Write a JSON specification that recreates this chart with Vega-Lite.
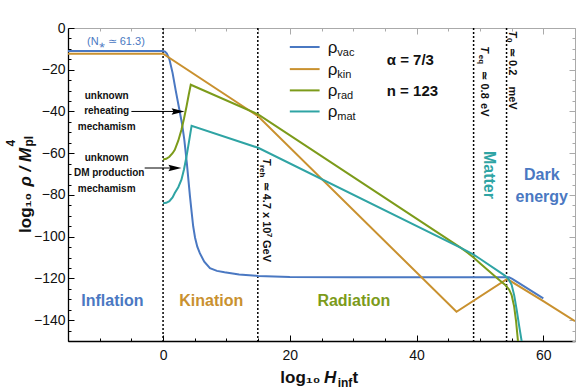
{
"$schema": "https://vega.github.io/schema/vega-lite/v6.json",
"width": 507, "height": 313,
"autosize": "none",
"padding": {"left": 68, "top": 28, "right": 6, "bottom": 51},
"config": {"view": {"stroke": null}, "font": "Liberation Sans",
  "axis": {"grid": false, "labelFont": "Liberation Sans", "labelFontSize": 14, "labelColor": "#111", "domainColor": "#000", "domainWidth": 1.3, "tickColor": "#000", "tickWidth": 1}},
"layer": [
{"data": {"values": [{"x":0},{"x":14.95},{"x":49},{"x":54.2}]},
 "mark": {"type": "rule", "color": "black", "strokeWidth": 1.5, "strokeDash": [2,2]},
 "encoding": {"x": {"field":"x","type":"quantitative","scale":{"domain":[-15,65],"nice":false,"zero":false},"axis":null}}},
{"data": {"values": [
{"s":"vac","x":-15,"y":-11},{"s":"vac","x":0,"y":-11},{"s":"vac","x":0.3,"y":-11.3},{"s":"vac","x":0.6,"y":-12.3},{"s":"vac","x":1,"y":-15},{"s":"vac","x":1.5,"y":-21.5},{"s":"vac","x":2,"y":-30},{"s":"vac","x":2.5,"y":-38},{"s":"vac","x":3,"y":-46},{"s":"vac","x":3.35,"y":-53.5},{"s":"vac","x":3.75,"y":-64.7},{"s":"vac","x":4.25,"y":-80.8},{"s":"vac","x":4.5,"y":-88},{"s":"vac","x":4.75,"y":-95},{"s":"vac","x":5.05,"y":-100.5},{"s":"vac","x":5.4,"y":-104.8},{"s":"vac","x":5.8,"y":-107.9},{"s":"vac","x":6.5,"y":-112},{"s":"vac","x":7.4,"y":-115.1},{"s":"vac","x":8.5,"y":-116.4},{"s":"vac","x":9.7,"y":-117.1},{"s":"vac","x":12,"y":-118.1},{"s":"vac","x":15,"y":-118.8},{"s":"vac","x":20,"y":-119.3},{"s":"vac","x":30,"y":-119.4},{"s":"vac","x":54.6,"y":-119.5},{"s":"vac","x":55.1,"y":-120.2},{"s":"vac","x":55.6,"y":-121.2},{"s":"vac","x":60,"y":-129.6},
{"s":"kin","x":-15,"y":-12.3},{"s":"kin","x":0,"y":-12.3},{"s":"kin","x":15,"y":-42.3},{"s":"kin","x":46.3,"y":-136},{"s":"kin","x":54.3,"y":-120.3},{"s":"kin","x":60,"y":-130.9},{"s":"kin","x":65,"y":-140.5},
{"s":"rad","x":0,"y":-63},{"s":"rad","x":0.5,"y":-62.7},{"s":"rad","x":1,"y":-61.7},{"s":"rad","x":1.5,"y":-60},{"s":"rad","x":1.85,"y":-58.4},{"s":"rad","x":2.4,"y":-54},{"s":"rad","x":2.9,"y":-48.8},{"s":"rad","x":3.3,"y":-43.5},{"s":"rad","x":3.7,"y":-37.6},{"s":"rad","x":4.05,"y":-32},{"s":"rad","x":4.37,"y":-27.2},{"s":"rad","x":15,"y":-41.4},{"s":"rad","x":47,"y":-105.4},{"s":"rad","x":48,"y":-107.6},{"s":"rad","x":49,"y":-110},{"s":"rad","x":50,"y":-112.7},{"s":"rad","x":51,"y":-115.4},{"s":"rad","x":52,"y":-118},{"s":"rad","x":53,"y":-120.6},{"s":"rad","x":54,"y":-123.2},{"s":"rad","x":54.6,"y":-125.3},{"s":"rad","x":55,"y":-128},{"s":"rad","x":55.4,"y":-133.5},{"s":"rad","x":55.7,"y":-140.5},{"s":"rad","x":56,"y":-150},{"s":"rad","x":56.3,"y":-160},
{"s":"mat","x":0,"y":-84},{"s":"mat","x":0.5,"y":-83.8},{"s":"mat","x":1,"y":-83},{"s":"mat","x":1.5,"y":-81.2},{"s":"mat","x":1.85,"y":-79.1},{"s":"mat","x":2.4,"y":-76.3},{"s":"mat","x":2.9,"y":-72.7},{"s":"mat","x":3.3,"y":-67.8},{"s":"mat","x":3.7,"y":-61.6},{"s":"mat","x":4.1,"y":-54.3},{"s":"mat","x":4.5,"y":-46.9},{"s":"mat","x":15,"y":-57.4},{"s":"mat","x":47,"y":-105.4},{"s":"mat","x":49,"y":-108.6},{"s":"mat","x":50,"y":-110.6},{"s":"mat","x":54,"y":-118.8},{"s":"mat","x":54.5,"y":-120.3},{"s":"mat","x":55,"y":-123.1},{"s":"mat","x":55.4,"y":-128},{"s":"mat","x":55.8,"y":-135.1},{"s":"mat","x":56.2,"y":-143},{"s":"mat","x":56.6,"y":-150.4},{"s":"mat","x":56.9,"y":-158}
]},
 "mark": {"type": "line", "strokeWidth": 2, "clip": true},
 "encoding": {
  "x": {"field":"x","type":"quantitative","scale":{"domain":[-15,65],"nice":false,"zero":false},
        "axis":{"orient":"bottom","title":null,"values":[-15,-10,-5,0,5,10,15,20,25,30,35,40,45,50,55,60,65],"labelExpr":"datum.value % 20 === 0 ? datum.label : ''","tickSize":{"condition":{"test":"datum.value % 20 === 0","value":-6},"value":-3},"labelPadding":13,"labelOverlap":false,"labelFlush":false}},
  "y": {"field":"y","type":"quantitative","scale":{"domain":[-150,0],"nice":false,"zero":false},
        "axis":{"orient":"left","title":null,"values":[-150,-145,-140,-135,-130,-125,-120,-115,-110,-105,-100,-95,-90,-85,-80,-75,-70,-65,-60,-55,-50,-45,-40,-35,-30,-25,-20,-15,-10,-5,0],"labelExpr":"datum.value % 20 === 0 ? datum.label : ''","tickSize":{"condition":{"test":"datum.value % 20 === 0","value":-6},"value":-3},"labelPadding":9,"labelOverlap":false,"labelFlush":false}},
  "color": {"field":"s","type":"nominal","scale":{"domain":["vac","kin","rad","mat"],"range":["#4A78C2","#C9912F","#7C9B1A","#2FA4A4"]},"legend":null},
  "detail": {"field":"s"}
 }},
{"data": {"values": [{"s":"vac","x":20,"x2":24.7,"y":-9.1},{"s":"kin","x":20,"x2":24.7,"y":-19.7},{"s":"rad","x":20,"x2":24.7,"y":-29.9},{"s":"mat","x":20,"x2":24.7,"y":-40}]},
 "mark": {"type": "rule", "strokeWidth": 2},
 "encoding": {
  "x": {"field":"x","type":"quantitative","scale":{"domain":[-15,65],"nice":false,"zero":false},
        "axis":{"orient":"top","title":null,"values":[-15,-10,-5,0,5,10,15,20,25,30,35,40,45,50,55,60,65],"labels":false,"domainColor":"#aaa","domainWidth":1,"tickColor":"#aaa","tickSize":{"condition":{"test":"datum.value % 20 === 0","value":-6},"value":-3}}},
  "x2": {"field":"x2"},
  "y": {"field":"y","type":"quantitative","scale":{"domain":[-150,0],"nice":false,"zero":false},
        "axis":{"orient":"right","title":null,"values":[-150,-145,-140,-135,-130,-125,-120,-115,-110,-105,-100,-95,-90,-85,-80,-75,-70,-65,-60,-55,-50,-45,-40,-35,-30,-25,-20,-15,-10,-5,0],"labels":false,"domainColor":"#aaa","domainWidth":1,"tickColor":"#aaa","tickSize":{"condition":{"test":"datum.value % 20 === 0","value":-6},"value":-3}}},
  "color": {"field":"s","type":"nominal","scale":{"domain":["vac","kin","rad","mat"],"range":["#4A78C2","#C9912F","#7C9B1A","#2FA4A4"]},"legend":null}
 }},
{"data": {"values": [{"x":26.0,"y":-11.8,"t":"ρ"},{"x":26.0,"y":-22.4,"t":"ρ"},{"x":26.0,"y":-32.6,"t":"ρ"},{"x":26.0,"y":-42.7,"t":"ρ"}]},
 "mark": {"type": "text", "align": "left", "baseline": "alphabetic", "fontSize": 17, "color": "#111"},
 "encoding": {"x": {"field":"x","type":"quantitative","scale":{"domain":[-15,65],"nice":false,"zero":false},"axis":null},
  "y": {"field":"y","type":"quantitative","scale":{"domain":[-150,0],"nice":false,"zero":false},"axis":null},
  "text": {"field":"t"}}},
{"data": {"values": [{"x":27.5,"y":-13.4,"t":"vac"},{"x":27.5,"y":-24.0,"t":"kin"},{"x":27.5,"y":-34.2,"t":"rad"},{"x":27.5,"y":-44.3,"t":"mat"}]},
 "mark": {"type": "text", "align": "left", "baseline": "alphabetic", "fontSize": 11, "color": "#111"},
 "encoding": {"x": {"field":"x","type":"quantitative","scale":{"domain":[-15,65],"nice":false,"zero":false},"axis":null},
  "y": {"field":"y","type":"quantitative","scale":{"domain":[-150,0],"nice":false,"zero":false},"axis":null},
  "text": {"field":"t"}}},
{"data": {"values": [{"x":-5.0,"x2":2.4,"y":-40},{"x":-2.9,"x2":1.9,"y":-67.1}]},
 "mark": {"type": "rule", "color": "black", "strokeWidth": 1},
 "encoding": {"x": {"field":"x","type":"quantitative","scale":{"domain":[-15,65],"nice":false,"zero":false},"axis":null},
  "x2": {"field":"x2"},
  "y": {"field":"y","type":"quantitative","scale":{"domain":[-150,0],"nice":false,"zero":false},"axis":null}}},
{"data": {"values": [{"x":2.37,"y":-40},{"x":1.87,"y":-67.1}]},
 "mark": {"type": "point", "filled": true, "color": "black", "opacity": 1, "size": 169, "shape": "M-1,-0.5L1,0L-1,0.5L-0.7,0Z"},
 "encoding": {"x": {"field":"x","type":"quantitative","scale":{"domain":[-15,65],"nice":false,"zero":false},"axis":null},
  "y": {"field":"y","type":"quantitative","scale":{"domain":[-150,0],"nice":false,"zero":false},"axis":null}}},
{"data": {"values": [{"x":-8.9,"y":-32.5,"t":"unknown"},{"x":-8.9,"y":-40,"t":"reheating"},{"x":-8.9,"y":-47.3,"t":"mechamism"},{"x":-8.9,"y":-62.4,"t":"unknown"},{"x":-8.5,"y":-69.5,"t":"DM production"},{"x":-8.9,"y":-77.2,"t":"mechamism"}]},
 "mark": {"type": "text", "align": "center", "baseline": "middle", "fontSize": 10, "fontWeight": "bold", "color": "#111"},
 "encoding": {"x": {"field":"x","type":"quantitative","scale":{"domain":[-15,65],"nice":false,"zero":false},"axis":null},
  "y": {"field":"y","type":"quantitative","scale":{"domain":[-150,0],"nice":false,"zero":false},"axis":null},
  "text": {"field":"t"}}},
{"data": {"values": [{"x":-12.0,"y":-6.7,"t":"(N⁎ ≃ 61.3)"}]},
 "mark": {"type": "text", "align": "left", "baseline": "middle", "fontSize": 11, "color": "#4A78C2"},
 "encoding": {"x": {"field":"x","type":"quantitative","scale":{"domain":[-15,65],"nice":false,"zero":false},"axis":null},
  "y": {"field":"y","type":"quantitative","scale":{"domain":[-150,0],"nice":false,"zero":false},"axis":null},
  "text": {"field":"t"}}},
{"data": {"values": [{"x":35.3,"y":-15.5,"t":"α = 7/3"},{"x":35.3,"y":-30.4,"t":"n = 123"}]},
 "mark": {"type": "text", "align": "left", "baseline": "middle", "fontSize": 15, "fontWeight": "bold", "color": "#111"},
 "encoding": {"x": {"field":"x","type":"quantitative","scale":{"domain":[-15,65],"nice":false,"zero":false},"axis":null},
  "y": {"field":"y","type":"quantitative","scale":{"domain":[-150,0],"nice":false,"zero":false},"axis":null},
  "text": {"field":"t"}}},
{"data": {"values": [{"s":"vac","x":-8.0,"y":-130.6,"t":"Inflation"},{"s":"kin","x":7.6,"y":-130.6,"t":"Kination"},{"s":"rad","x":30.1,"y":-130.6,"t":"Radiation"},{"s":"vac","x":59.75,"y":-70.4,"t":"Dark"},{"s":"vac","x":59.75,"y":-80.8,"t":"energy"}]},
 "mark": {"type": "text", "align": "center", "baseline": "middle", "fontSize": 16, "fontWeight": "bold"},
 "encoding": {"x": {"field":"x","type":"quantitative","scale":{"domain":[-15,65],"nice":false,"zero":false},"axis":null},
  "y": {"field":"y","type":"quantitative","scale":{"domain":[-150,0],"nice":false,"zero":false},"axis":null},
  "color": {"field":"s","type":"nominal","scale":{"domain":["vac","kin","rad","mat"],"range":["#4A78C2","#C9912F","#7C9B1A","#2FA4A4"]},"legend":null},
  "text": {"field":"t"}}},
{"data": {"values": [{"s":"mat","x":51.4,"y":-70.4,"t":"Matter"}]},
 "mark": {"type": "text", "align": "center", "baseline": "middle", "fontSize": 16, "fontWeight": "bold", "angle": 90},
 "encoding": {"x": {"field":"x","type":"quantitative","scale":{"domain":[-15,65],"nice":false,"zero":false},"axis":null},
  "y": {"field":"y","type":"quantitative","scale":{"domain":[-150,0],"nice":false,"zero":false},"axis":null},
  "color": {"field":"s","type":"nominal","scale":{"domain":["vac","kin","rad","mat"],"range":["#4A78C2","#C9912F","#7C9B1A","#2FA4A4"]},"legend":null},
  "text": {"field":"t"}}},
{"data": {"values": [{"x":16.2,"y":-62.4,"t":"T"},{"x":50.65,"y":-8.8,"t":"T"},{"x":55.1,"y":-1.3,"t":"T"}]},
 "mark": {"type": "text", "align": "left", "baseline": "middle", "fontSize": 11, "fontWeight": "bold", "fontStyle": "italic", "angle": 90, "color": "#111"},
 "encoding": {"x": {"field":"x","type":"quantitative","scale":{"domain":[-15,65],"nice":false,"zero":false},"axis":null},
  "y": {"field":"y","type":"quantitative","scale":{"domain":[-150,0],"nice":false,"zero":false},"axis":null},
  "text": {"field":"t"}}},
{"data": {"values": [{"x":15.6,"y":-65.6,"t":"reh"},{"x":50.1,"y":-12.8,"t":"eq"},{"x":54.55,"y":-4.8,"t":"0"},{"x":16.75,"y":-98.3,"t":"7"}]},
 "mark": {"type": "text", "align": "left", "baseline": "middle", "fontSize": 8, "fontWeight": "bold", "angle": 90, "color": "#111"},
 "encoding": {"x": {"field":"x","type":"quantitative","scale":{"domain":[-15,65],"nice":false,"zero":false},"axis":null},
  "y": {"field":"y","type":"quantitative","scale":{"domain":[-150,0],"nice":false,"zero":false},"axis":null},
  "text": {"field":"t"}}},
{"data": {"values": [{"x":16.2,"y":-73.6,"t":"≃ 4.7 x 10"},{"x":16.2,"y":-101.6,"t":"GeV"},{"x":50.65,"y":-20.8,"t":"≃ 0.8"},{"x":50.65,"y":-36.0,"t":"eV"},{"x":55.1,"y":-9.6,"t":"≃ 0.2"},{"x":55.1,"y":-28.0,"t":"meV"}]},
 "mark": {"type": "text", "align": "left", "baseline": "middle", "fontSize": 11, "fontWeight": "bold", "angle": 90, "color": "#111"},
 "encoding": {"x": {"field":"x","type":"quantitative","scale":{"domain":[-15,65],"nice":false,"zero":false},"axis":null},
  "y": {"field":"y","type":"quantitative","scale":{"domain":[-150,0],"nice":false,"zero":false},"axis":null},
  "text": {"field":"t"}}},
{"data": {"values": [{"x":18.5,"y":-170.3,"t":"log₁₀"},{"x":29.9,"y":-170.3,"t":"t"}]},
 "mark": {"type": "text", "align": "left", "baseline": "alphabetic", "fontSize": 17, "fontWeight": "bold", "color": "#111"},
 "encoding": {"x": {"field":"x","type":"quantitative","scale":{"domain":[-15,65],"nice":false,"zero":false},"axis":null},
  "y": {"field":"y","type":"quantitative","scale":{"domain":[-150,0],"nice":false,"zero":false},"axis":null},
  "text": {"field":"t"}}},
{"data": {"values": [{"x":25.4,"y":-170.3,"t":"H"}]},
 "mark": {"type": "text", "align": "left", "baseline": "alphabetic", "fontSize": 17, "fontWeight": "bold", "fontStyle": "italic", "color": "#111"},
 "encoding": {"x": {"field":"x","type":"quantitative","scale":{"domain":[-15,65],"nice":false,"zero":false},"axis":null},
  "y": {"field":"y","type":"quantitative","scale":{"domain":[-150,0],"nice":false,"zero":false},"axis":null},
  "text": {"field":"t"}}},
{"data": {"values": [{"x":27.55,"y":-172.0,"t":"inf"}]},
 "mark": {"type": "text", "align": "left", "baseline": "alphabetic", "fontSize": 12, "fontWeight": "bold", "color": "#111"},
 "encoding": {"x": {"field":"x","type":"quantitative","scale":{"domain":[-15,65],"nice":false,"zero":false},"axis":null},
  "y": {"field":"y","type":"quantitative","scale":{"domain":[-150,0],"nice":false,"zero":false},"axis":null},
  "text": {"field":"t"}}},
{"data": {"values": [{"x":-20.9,"y":-98.2,"t":"log₁₀"}]},
 "mark": {"type": "text", "align": "left", "baseline": "alphabetic", "fontSize": 17, "fontWeight": "bold", "angle": 270, "color": "#111"},
 "encoding": {"x": {"field":"x","type":"quantitative","scale":{"domain":[-15,65],"nice":false,"zero":false},"axis":null},
  "y": {"field":"y","type":"quantitative","scale":{"domain":[-150,0],"nice":false,"zero":false},"axis":null},
  "text": {"field":"t"}}},
{"data": {"values": [{"x":-20.9,"y":-76.0,"t":"ρ / M"}]},
 "mark": {"type": "text", "align": "left", "baseline": "alphabetic", "fontSize": 17, "fontWeight": "bold", "fontStyle": "italic", "angle": 270, "color": "#111"},
 "encoding": {"x": {"field":"x","type":"quantitative","scale":{"domain":[-15,65],"nice":false,"zero":false},"axis":null},
  "y": {"field":"y","type":"quantitative","scale":{"domain":[-150,0],"nice":false,"zero":false},"axis":null},
  "text": {"field":"t"}}},
{"data": {"values": [{"x":-23.4,"y":-56.8,"t":"4"},{"x":-20.6,"y":-56.8,"t":"pl"}]},
 "mark": {"type": "text", "align": "left", "baseline": "alphabetic", "fontSize": 12, "fontWeight": "bold", "angle": 270, "color": "#111"},
 "encoding": {"x": {"field":"x","type":"quantitative","scale":{"domain":[-15,65],"nice":false,"zero":false},"axis":null},
  "y": {"field":"y","type":"quantitative","scale":{"domain":[-150,0],"nice":false,"zero":false},"axis":null},
  "text": {"field":"t"}}}
],
"resolve": {"axis": {"x": "independent", "y": "independent"}}
}
